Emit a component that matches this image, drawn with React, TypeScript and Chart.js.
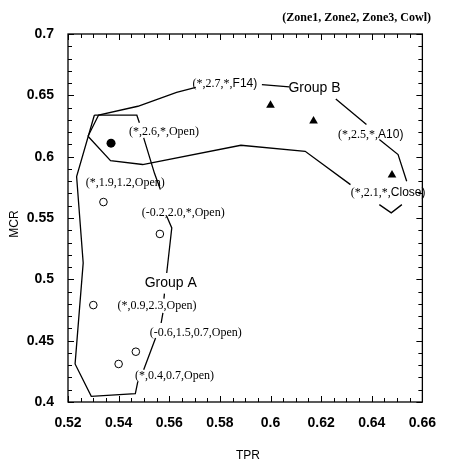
import React, { useEffect, useRef } from "react";
import { Chart, registerables } from "chart.js";
Chart.register(...registerables);

// ---- data ----
const openX = [0.534, 0.5563, 0.530, 0.5468, 0.540];
const openY = [0.563, 0.537, 0.479, 0.441, 0.431];
const filledX = [0.537];
const filledY = [0.611];
const triX = [0.600, 0.617, 0.648];
const triY = [0.642, 0.629, 0.585];

// Group A outline (null = break for labels)
const groupAX = [0.5304, 0.5472, 0.5482, null, 0.5499, 0.5542, 0.5565, null, 0.5590, 0.5610, 0.5590, null, 0.5581, 0.5579, null, 0.5575, 0.5568, null, 0.5546, 0.5499, null, 0.5476, 0.5466, 0.5292, 0.5228, 0.5260, 0.5234, 0.5304];
const groupAY = [0.6338, 0.6338, 0.6276, null, 0.6153, 0.5862, 0.5732, null, 0.5514, 0.5419, 0.5052, null, 0.4883, 0.4843, null, 0.4726, 0.4644, null, 0.4522, 0.4263, null, 0.4168, 0.4068, 0.4046, 0.4310, 0.5134, 0.5838, 0.6338];
// Group B outline
const groupBX = [0.5279, 0.5321, 0.5476, 0.5629, 0.5705, null, 0.5966, 0.6074, null, 0.6258, 0.6379, null, 0.6430, 0.6504, 0.6538, null, 0.6519, 0.6477, 0.6430, null, 0.6316, 0.6137, 0.5883, 0.5495, 0.5368, 0.5279];
const groupBY = [0.6166, 0.6339, 0.6411, 0.6525, 0.6564, null, 0.6588, 0.6569, null, 0.6471, 0.6262, null, 0.6139, 0.6017, 0.5799, null, 0.5609, 0.5542, 0.5609, null, 0.5772, 0.6044, 0.6093, 0.5936, 0.5968, 0.6166];

// vertex labels: serif part + sans part
const labelSerif = ["(*,2.6,*,Open)", "(*,1.9,1.2,Open)", "(-0.2,2.0,*,Open)", "(*,0.9,2.3,Open)", "(-0.6,1.5,0.7,Open)", "(*,0.4,0.7,Open)", "(*,2.7,*,", "(*,2.5,*,", "(*,2.1,*,"];
const labelSans = ["", "", "", "", "", "", "F14)", "A10)", "Close)"];
const labelX = [0.5579, 0.5426, 0.5655, 0.5552, 0.5705, 0.5621, 0.5820, 0.6396, 0.6465];
const labelY = [0.6205, 0.5789, 0.5544, 0.4786, 0.4565, 0.4215, 0.6596, 0.6180, 0.5707];

const groupNames = ["Group A", "Group B"];
const groupX = [0.5606, 0.6174];
const groupY = [0.4973, 0.6555];

const xTickLabels = [0.52, 0.54, 0.56, 0.58, 0.6, 0.62, 0.64, 0.66];
const yTickLabels = [0.4, 0.45, 0.5, 0.55, 0.6, 0.65, 0.7];
const xMinorStep = 0.005;
const yMinorStep = 0.01;

const titleText = "(Zone1, Zone2, Zone3, Cowl)";
const xTitle = "TPR";
const yTitle = "MCR";

const pts = (xs: (number | null)[], ys: (number | null)[]) =>
  xs.map((x, i) => ({ x: x === null ? NaN : x, y: ys[i] === null ? NaN : (ys[i] as number) }));

const SERIF = "'Liberation Serif', 'Times New Roman', serif";
const SANS = "'Liberation Sans', Arial, sans-serif";

const decorPlugin = {
  id: "decor",
  afterDatasetsDraw(chart: any) {
    const ctx = chart.ctx;
    const { left, right, top, bottom } = chart.chartArea;
    const xs = chart.scales.x;
    const ys = chart.scales.y;
    ctx.save();
    ctx.strokeStyle = "#000";
    ctx.fillStyle = "#000";
    // frame
    ctx.lineWidth = 1.3;
    ctx.strokeRect(left, top, right - left, bottom - top);
    // ticks
    ctx.lineWidth = 1;
    const nX = Math.round((xs.max - xs.min) / xMinorStep);
    for (let i = 0; i <= nX; i++) {
      const v = xs.min + i * xMinorStep;
      const p = Math.round(xs.getPixelForValue(v)) + 0.5;
      const major = xTickLabels.some((t) => Math.abs(t - v) < 1e-6);
      const len = major ? 6 : 4;
      ctx.beginPath();
      ctx.moveTo(p, bottom);
      ctx.lineTo(p, bottom - len);
      ctx.moveTo(p, top);
      ctx.lineTo(p, top + len);
      ctx.stroke();
    }
    const nY = Math.round((ys.max - ys.min) / yMinorStep);
    for (let i = 0; i <= nY; i++) {
      const v = ys.min + i * yMinorStep;
      const p = Math.round(ys.getPixelForValue(v)) + 0.5;
      const major = yTickLabels.some((t) => Math.abs(t - v) < 1e-6);
      const len = major ? 6 : 4;
      ctx.beginPath();
      ctx.moveTo(left, p);
      ctx.lineTo(left + len, p);
      ctx.moveTo(right, p);
      ctx.lineTo(right - len, p);
      ctx.stroke();
    }
    // vertex labels
    ctx.textBaseline = "middle";
    ctx.textAlign = "left";
    const serifFont = `12px ${SERIF}`;
    const sansFont = `12px ${SANS}`;
    for (let i = 0; i < labelSerif.length; i++) {
      ctx.font = serifFont;
      const w1 = ctx.measureText(labelSerif[i]).width;
      ctx.font = sansFont;
      const w2 = labelSans[i] ? ctx.measureText(labelSans[i]).width : 0;
      const cx = xs.getPixelForValue(labelX[i]);
      const cy = ys.getPixelForValue(labelY[i]);
      const x0 = cx - (w1 + w2) / 2;
      ctx.font = serifFont;
      ctx.fillText(labelSerif[i], x0, cy);
      if (labelSans[i]) {
        ctx.font = sansFont;
        ctx.fillText(labelSans[i], x0 + w1, cy);
      }
    }
    // group labels
    ctx.textAlign = "center";
    ctx.font = `14px ${SANS}`;
    for (let i = 0; i < groupNames.length; i++) {
      ctx.fillText(groupNames[i], xs.getPixelForValue(groupX[i]), ys.getPixelForValue(groupY[i]));
    }
    // title
    ctx.font = `bold 12px ${SERIF}`;
    ctx.textAlign = "right";
    ctx.fillText(titleText, 431, 18);
    // axis titles
    ctx.font = `12px ${SANS}`;
    ctx.textAlign = "center";
    ctx.fillText(xTitle, 248, 456);
    ctx.translate(15, 224);
    ctx.rotate(-Math.PI / 2);
    ctx.fillText(yTitle, 0, 0);
    ctx.restore();
  },
};

export default function App() {
  const ref = useRef<HTMLCanvasElement>(null);
  useEffect(() => {
    if (!ref.current) return;
    const tickFont = { family: SANS, size: 14, weight: "bold" as const };
    const chart = new Chart(ref.current, {
      type: "scatter",
      data: {
        datasets: [
          {
            label: "Group A",
            data: pts(groupAX, groupAY),
            showLine: true,
            borderColor: "#000",
            borderWidth: 1.3,
            pointRadius: 0,
            spanGaps: false,
            tension: 0,
          },
          {
            label: "Group B",
            data: pts(groupBX, groupBY),
            showLine: true,
            borderColor: "#000",
            borderWidth: 1.3,
            pointRadius: 0,
            spanGaps: false,
            tension: 0,
          },
          {
            label: "open",
            data: pts(openX, openY),
            pointStyle: "circle",
            pointRadius: 3.8,
            pointBackgroundColor: "#fff",
            pointBorderColor: "#000",
            pointBorderWidth: 1,
          },
          {
            label: "filled",
            data: pts(filledX, filledY),
            pointStyle: "circle",
            pointRadius: 4.5,
            pointBackgroundColor: "#000",
            pointBorderColor: "#000",
            pointBorderWidth: 0,
          },
          {
            label: "tri",
            data: pts(triX, triY),
            pointStyle: "triangle",
            pointRadius: 5,
            pointBackgroundColor: "#000",
            pointBorderColor: "#000",
            pointBorderWidth: 0,
          },
        ],
      },
      options: {
        animation: false,
        responsive: false,
        layout: { padding: { top: 34, right: 15, left: 0, bottom: 0 } },
        plugins: { legend: { display: false }, tooltip: { enabled: false }, title: { display: false } },
        scales: {
          x: {
            type: "linear",
            min: 0.52,
            max: 0.66,
            grid: { display: false, drawTicks: false },
            border: { display: false },
            afterBuildTicks: (s: any) => {
              s.ticks = xTickLabels.map((v) => ({ value: v }));
            },
            afterFit: (s: any) => {
              s.height = 61;
            },
            ticks: {
              color: "#000",
              font: tickFont,
              padding: 13,
              maxRotation: 0,
              autoSkip: false,
              callback: (v: any) => String(v),
            },
          },
          y: {
            type: "linear",
            min: 0.4,
            max: 0.7,
            grid: { display: false, drawTicks: false },
            border: { display: false },
            afterBuildTicks: (s: any) => {
              s.ticks = yTickLabels.map((v) => ({ value: v }));
            },
            afterFit: (s: any) => {
              s.width = 68;
            },
            ticks: {
              color: "#000",
              font: tickFont,
              padding: 14,
              autoSkip: false,
              callback: (v: any) => String(v),
            },
          },
        },
      },
      plugins: [decorPlugin],
    } as any);
    return () => chart.destroy();
  }, []);
  return (
    <div style={{ position: "absolute", left: 0, top: 0, width: 449, height: 463, background: "#fff" }}>
      <canvas ref={ref} width={449} height={463} style={{ display: "block" }} />
    </div>
  );
}
